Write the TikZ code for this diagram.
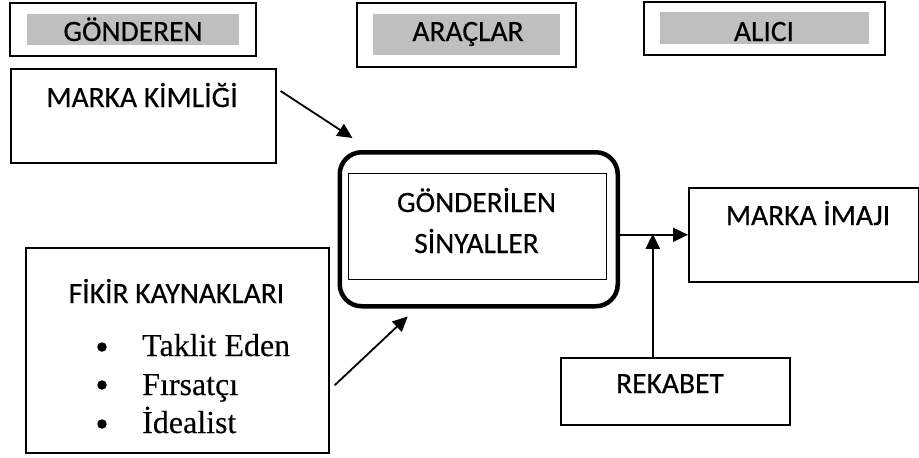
\documentclass[tikz,border=0pt]{standalone}
\usepackage{fontspec}
\setmainfont{Carlito}[FakeBold=0.4]
\newfontfamily\tnr{Liberation Serif}[FakeBold=0.2]
\usetikzlibrary{arrows.meta}
\definecolor{bargray}{HTML}{BFBFBF}
\begin{document}
\begin{tikzpicture}[x=1pt,y=-1pt,
  boxline/.style={draw=black,line width=1.6pt},
  graybar/.style={fill=bargray,draw=none},
  lbl/.style={anchor=base,inner sep=0pt,font=\fontsize{29.5}{35}\selectfont},
  ser/.style={anchor=base west,inner sep=0pt,font=\tnr\fontsize{32}{38}\selectfont},
  bul/.style={circle,fill=black,draw=none,inner sep=0pt,minimum size=9.5pt},
  arr/.style={line width=1.8pt,-{Triangle[length=15pt,width=14pt]}}]
\useasboundingbox (0,0) rectangle (919,458);
% top header boxes
\draw[boxline] (10,3) rectangle (256,56);
\fill[graybar] (27,14) rectangle (239,45);
\node[lbl] (gon) at (133,41) {GÖNDEREN};
\draw[boxline] (357,3) rectangle (576,67);
\fill[graybar] (373,14) rectangle (560,55);
\node[lbl] (arac) at (468,41) {ARAÇLAR};
\draw[boxline] (644,2) rectangle (885,55);
\fill[graybar] (660,12) rectangle (869,44);
\node[lbl] (alici) at (764,41) {ALICI};
% boxes
\node[boxline,minimum width=265pt,minimum height=94pt,anchor=north west,inner sep=0pt] (mk) at (10,68) {};
\node[lbl] (mkt) at (142,107) {MARKA KİMLİĞİ};
\node[draw=black,line width=4.5pt,rounded corners=22pt,minimum width=278pt,minimum height=154pt,anchor=north west,inner sep=0pt] (sig) at (337.5,150) {};
\node[draw=black,line width=1.2pt,minimum width=258pt,minimum height=106pt,anchor=north west,inner sep=0pt] (sigin) at (348,173) {};
\node[lbl] (sigt1) at (476.5,212) {GÖNDERİLEN};
\node[lbl] (sigt2) at (476.5,253) {SİNYALLER};
\node[boxline,minimum width=230pt,minimum height=94pt,anchor=north west,inner sep=0pt] (mi) at (688,187) {};
\node[lbl] (mit) at (808,225) {MARKA İMAJI};
\node[boxline,minimum width=303pt,minimum height=205pt,anchor=north west,inner sep=0pt] (fk) at (25,247) {};
\node[lbl] (fkt) at (176.5,303) {FİKİR KAYNAKLARI};
\node[bul] (b1) at (102,347) {};
\node[bul] (b2) at (102,385) {};
\node[bul] (b3) at (102,424) {};
\node[ser] (s1) at (142,356) {Taklit Eden};
\node[ser] (s2) at (142,395) {Fırsatçı};
\node[ser] (s3) at (142,433) {İdealist};
\node[boxline,minimum width=229pt,minimum height=67pt,anchor=north west,inner sep=0pt] (rek) at (560,357) {};
\node[lbl] (rekt) at (670,393) {REKABET};
% connectors
\draw[arr] ([shift={(4,23)}]mk.north east) -- ([shift={(15,-12)}]sig.north west);
\draw[arr] ([shift={(5,35)}]fk.east) -- ([shift={(-71,8)}]sig.south);
\draw[arr] (sig.east |- mi.west) -- (mi.west);
\draw[arr] ([xshift=-22.5pt]rek.north) -- ([xshift=-22.5pt,yshift=1pt]rek.north |- mi.west);
\end{tikzpicture}
\end{document}
